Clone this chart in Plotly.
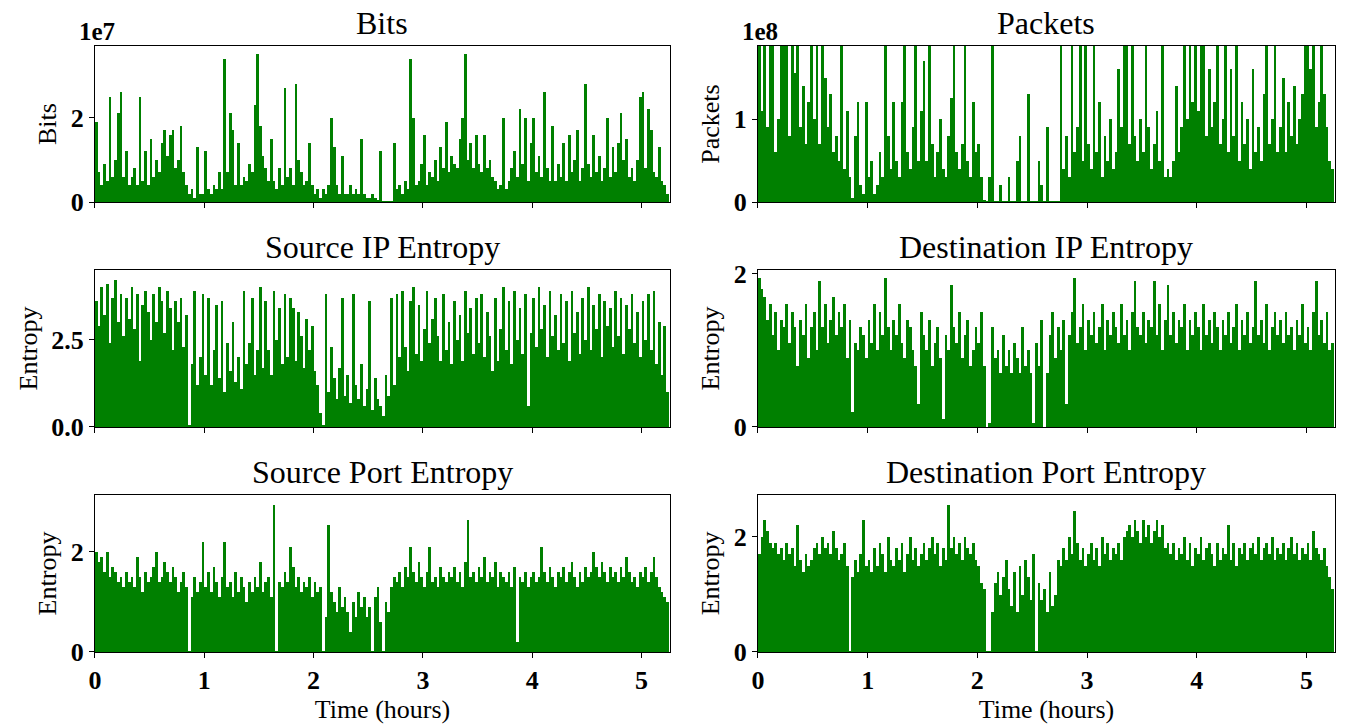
import numpy as np
import plotly.graph_objects as go

# Sampling interval of the traffic bins, in hours (1.5 min)
STEP_H = 0.025

# Bits per bin, in units of 1e7
bits_1e7 = [
    1.9, 0.7, 0.4, 0.9, 0.5, 2.5, 0.6, 1.0, 2.1, 2.6,
    0.6, 1.2, 0.4, 0.6, 0.8, 0.4, 2.5, 0.5, 1.2, 0.4,
    1.5, 0.6, 1.0, 0.7, 1.4, 1.7, 1.1, 1.6, 1.7, 0.8,
    1.0, 1.8, 0.7, 0.4, 0.2, 0.3, 0.1, 1.3, 0.2, 0.2,
    1.2, 0.3, 0.2, 0.4, 0.3, 0.7, 0.3, 3.4, 0.7, 2.1,
    1.7, 0.4, 1.4, 0.4, 0.6, 0.5, 0.9, 0.7, 2.3, 3.5,
    1.8, 1.1, 0.8, 0.5, 1.5, 0.5, 0.3, 0.8, 0.4, 2.7,
    0.6, 0.8, 0.4, 2.8, 1.0, 0.7, 0.4, 0.5, 1.4, 0.4,
    0.2, 0.3, 0.1, 0.3, 0.2, 0.4, 2.0, 1.3, 0.4, 0.2,
    1.1, 0.2, 0.2, 0.4, 0.2, 0.3, 0.2, 1.5, 0.2, 0.1,
    0.1, 0.2, 0.1, 0.05, 1.2, 0.02, 0.02, 0.02, 0.02, 1.4,
    0.3, 0.4, 0.2, 0.5, 0.3, 3.4, 2.0, 0.4, 0.5, 0.9,
    1.6, 0.4, 0.7, 0.6, 1.0, 0.5, 1.3, 0.8, 1.9, 0.7,
    1.1, 0.9, 0.8, 1.5, 2.0, 3.5, 1.0, 1.4, 0.8, 1.6,
    0.9, 0.7, 1.6, 0.8, 1.0, 0.6, 0.5, 0.3, 0.4, 2.0,
    0.3, 0.5, 0.8, 1.2, 0.6, 2.2, 0.9, 2.0, 0.5, 1.4,
    2.0, 0.7, 1.1, 0.6, 2.6, 0.8, 0.5, 1.8, 0.5, 0.9,
    0.6, 1.4, 0.5, 1.6, 0.7, 1.0, 1.7, 0.5, 0.8, 2.8,
    0.9, 0.6, 1.6, 0.7, 1.1, 0.5, 0.8, 2.0, 0.6, 1.3,
    0.7, 1.4, 2.1, 1.0, 1.5, 0.6, 0.8, 0.5, 1.0, 2.5,
    2.6, 0.8, 2.2, 1.7, 0.7, 0.6, 1.3, 0.5, 0.4, 0.2,
]

# Packets per bin, in units of 1e8
packets_1e8 = [
    2.4, 1.1, 2.2, 0.9, 2.3, 2.1, 0.6, 1.0, 2.5, 2.2,
    2.3, 0.8, 2.4, 1.55, 2.2, 0.9, 1.4, 0.7, 1.2, 2.3,
    1.0, 2.1, 0.7, 2.4, 1.5, 0.9, 1.3, 0.6, 0.8, 0.5,
    2.2, 0.4, 1.1, 0.3, 0.05, 0.8, 1.2, 0.2, 0.1, 1.2,
    0.3, 0.5, 0.1, 0.2, 0.6, 0.3, 2.2, 0.8, 0.4, 1.2,
    0.5, 0.3, 1.2, 2.3, 0.6, 0.4, 0.9, 2.2, 0.5, 1.1,
    1.7, 0.5, 2.1, 0.7, 0.3, 0.6, 1.0, 0.4, 0.3, 0.8,
    1.25, 2.3, 0.6, 0.4, 0.7, 2.2, 0.5, 0.3, 1.2, 0.6,
    0.7, 0.3, 0.02, 0.01, 0.3, 2.2, 0.01, 0.01, 0.2, 0.01,
    0.01, 0.3, 0.01, 0.01, 0.5, 0.8, 0.01, 0.01, 1.3, 0.01,
    0.01, 0.01, 0.5, 0.2, 0.01, 0.9, 0.01, 0.01, 0.01, 0.01,
    2.3, 0.4, 0.8, 0.3, 2.2, 0.6, 0.9, 2.4, 0.5, 2.1,
    0.7, 0.4, 2.2, 0.6, 1.2, 0.3, 0.8, 0.5, 1.0, 0.4,
    0.6, 1.6, 0.9, 2.4, 2.2, 0.7, 2.3, 0.8, 0.5, 1.0,
    0.6, 2.2, 0.9, 0.4, 0.7, 1.1, 0.5, 2.3, 0.3, 0.4,
    0.3, 0.5, 1.4, 0.6, 0.9, 2.2, 1.0, 2.4, 1.2, 2.1,
    1.1, 2.3, 2.2, 0.8, 1.6, 0.9, 1.2, 2.4, 0.7, 1.0,
    2.2, 0.6, 1.6, 0.8, 2.3, 0.5, 1.2, 0.7, 1.0, 0.4,
    1.6, 0.6, 0.9, 0.5, 1.3, 2.2, 0.7, 1.0, 2.3, 0.6,
    0.9, 1.5, 0.6, 1.2, 0.8, 1.4, 0.7, 1.0, 1.3, 2.2,
    2.3, 1.6, 2.4, 0.9, 1.2, 2.2, 1.3, 0.9, 0.5, 0.4,
]

# Shannon entropy of source IP addresses per bin
src_ip_entropy = [
    3.6, 2.9, 4.0, 3.2, 4.1, 2.4, 3.7, 4.2, 3.0, 3.8,
    2.6, 3.7, 3.1, 4.0, 2.8, 3.8, 1.9, 3.5, 3.9, 3.3,
    2.5, 3.8, 3.0, 4.0, 3.6, 2.7, 3.9, 3.4, 2.2, 3.6,
    3.0, 3.7, 2.3, 3.2, 0.05, 1.8, 3.9, 1.2, 2.0, 3.8,
    1.5, 3.7, 1.2, 2.2, 3.5, 1.4, 3.6, 1.0, 2.4, 1.6,
    3.0, 1.3, 2.0, 1.1, 3.9, 1.8, 2.4, 3.7, 1.5, 2.2,
    4.0, 1.7, 3.6, 2.2, 1.5, 3.9, 2.5, 3.4, 1.8, 3.8,
    2.0, 3.7, 3.4, 1.9, 3.3, 2.6, 1.7, 3.1, 2.2, 2.9,
    1.6, 1.2, 0.4, 0.05, 3.8, 1.0, 2.3, 1.4, 0.8, 1.7,
    3.7, 0.9, 1.5, 0.7, 3.8, 1.2, 0.8, 1.8, 0.6, 1.1,
    3.6, 0.5, 1.4, 0.8, 0.6, 0.3, 1.5, 0.9, 3.7, 1.2,
    3.8, 2.0, 3.9, 2.3, 1.6, 3.6, 4.0, 2.1, 3.5, 1.9,
    2.8, 3.9, 2.4, 3.1, 3.7, 2.6, 1.9, 3.8, 2.2, 3.0,
    1.8, 3.6, 2.5, 3.2, 1.9, 3.9, 2.7, 3.4, 2.1, 3.7,
    2.4, 3.8, 2.0, 3.3, 2.6, 1.6, 3.7, 1.9, 2.8, 4.0,
    2.2, 3.6, 1.8, 3.9, 2.5, 3.4, 2.1, 3.8, 0.6, 2.7,
    3.7, 2.3, 4.0, 2.8, 3.5, 2.0, 3.9, 2.6, 3.2, 2.2,
    3.8, 2.4, 3.6, 1.9, 3.9, 2.7, 3.3, 2.1, 3.7, 2.5,
    4.0, 2.2, 3.5, 2.8, 3.8, 2.0, 3.6, 2.9, 3.4, 2.3,
    3.9, 2.6, 3.7, 2.1, 3.5, 2.8, 3.8, 2.4, 3.3, 2.0,
    3.6, 2.5, 3.8, 2.2, 3.9, 1.8, 3.0, 1.5, 2.9, 1.0,
]

# Shannon entropy of destination IP addresses per bin
dst_ip_entropy = [
    1.95, 1.8, 1.7, 1.4, 1.6, 1.2, 1.5, 1.0, 1.4, 1.3,
    1.6, 1.1, 1.5, 1.3, 0.8, 1.4, 1.2, 1.6, 0.9, 1.3,
    1.5, 1.0, 1.9, 1.3, 1.6, 1.1, 1.4, 1.7, 1.2, 1.5,
    1.3, 1.6, 0.9, 1.4, 0.2, 1.1, 1.0, 1.3, 1.2, 0.9,
    1.4, 1.1, 1.6, 1.0, 1.5, 1.2, 1.95, 1.3, 1.0, 1.4,
    1.2, 1.6, 1.1, 0.9, 1.4, 1.3, 1.0, 0.8, 0.3, 1.5,
    1.2, 1.0, 1.4, 0.8, 1.1, 1.3, 0.9, 0.1, 1.2, 1.0,
    1.85, 1.3, 1.1, 1.5, 0.9, 1.2, 1.4, 0.8, 1.0, 1.3,
    1.1, 1.5, 0.8, 0.0, 0.05, 1.3, 0.9, 1.0, 0.7, 1.2,
    0.8, 1.0, 0.7, 1.1, 0.9, 0.7, 1.3, 0.8, 1.0, 0.7,
    0.05, 1.1, 0.8, 1.4, 0.0, 0.7, 1.2, 1.5, 0.9, 1.3,
    1.0, 1.4, 0.3, 1.2, 1.5, 1.95, 1.1, 1.3, 1.6, 1.0,
    1.4, 1.2, 1.5, 1.1, 1.3, 1.6, 1.0, 1.4, 1.2, 1.5,
    1.3, 1.1, 1.6, 1.2, 1.4, 1.0, 1.5, 1.9, 1.3, 1.2,
    1.5, 1.1, 1.4, 1.3, 1.9, 1.2, 1.6, 1.0, 1.4, 1.85,
    1.2, 1.5, 1.1, 1.4, 1.3, 1.6, 1.0, 1.4, 1.2, 1.5,
    1.3, 1.0, 1.6, 1.2, 1.4, 1.1, 1.5, 1.3, 1.0, 1.4,
    1.2, 1.5, 1.1, 1.3, 1.6, 1.0, 1.4, 1.2, 1.5, 1.1,
    1.3, 1.9, 1.2, 1.4, 1.1, 1.6, 1.0, 1.3, 1.5, 1.2,
    1.4, 1.1, 1.5, 1.2, 1.3, 1.0, 1.4, 1.2, 1.6, 1.1,
    1.3, 1.0, 1.5, 1.9, 1.2, 1.4, 1.1, 1.5, 1.0, 1.1,
]

# Shannon entropy of source ports per bin
src_port_entropy = [
    2.0, 1.8, 1.9, 1.6, 2.0, 1.5, 1.7, 1.6, 1.4, 1.5,
    1.3, 1.6, 1.4, 1.5, 1.3, 1.9, 1.5, 1.2, 1.6, 1.4,
    1.5, 1.7, 2.0, 1.4, 1.5, 1.8, 1.6, 1.4, 1.7, 1.5,
    1.2, 1.4, 1.6, 1.3, 0.02, 1.1, 1.5, 1.2, 1.4, 2.2,
    1.3, 1.6, 1.2, 1.7, 1.4, 1.1, 1.5, 2.2, 1.3, 1.4,
    1.1, 1.6, 1.2, 1.5, 1.3, 1.0, 1.4, 1.2, 1.5, 1.3,
    1.8, 1.2, 1.4, 1.5, 1.1, 2.95, 0.02, 1.4, 1.3, 1.6,
    1.4, 2.1, 1.7, 1.3, 1.5, 1.2, 1.4, 1.3, 1.5, 1.1,
    1.4, 1.2, 1.3, 0.02, 0.7, 2.55, 1.2, 1.0, 0.8, 1.3,
    0.9, 1.1, 0.8, 0.4, 1.0, 0.7, 1.2, 0.9, 1.1, 0.7,
    0.9, 0.02, 1.1, 1.3, 0.6, 0.02, 1.0, 0.8, 1.3, 1.5,
    1.4, 1.6, 1.3, 1.7, 1.5, 2.1, 1.6, 1.4, 1.8, 1.5,
    1.3, 1.6, 2.1, 1.4, 1.5, 1.3, 1.7, 1.5, 1.4, 1.6,
    1.5, 1.7, 1.4, 1.6, 1.3, 1.8, 2.65, 1.5, 1.6, 1.4,
    1.7, 1.5, 1.9, 1.4, 1.6, 1.5, 1.8, 1.3, 1.6, 1.5,
    1.4, 1.6, 1.3, 1.7, 0.2, 1.5, 1.4, 1.6, 1.3, 1.5,
    1.6, 1.4, 1.5, 2.1, 1.6, 1.4, 1.7, 1.5, 1.3, 1.6,
    1.5, 1.7, 1.4, 1.6, 1.8, 1.5, 1.3, 1.6, 1.4, 1.7,
    1.5, 1.6, 2.0, 1.7, 1.5, 1.8, 1.6, 1.4, 1.7, 1.5,
    1.6, 1.4, 1.7, 1.5, 1.9, 1.6, 1.4, 1.5, 1.3, 1.6,
    1.5, 1.7, 1.4, 1.6, 1.9, 1.5, 1.3, 1.2, 1.1, 1.0,
]

# Shannon entropy of destination ports per bin
dst_port_entropy = [
    1.7, 2.0, 2.3, 2.1, 1.9, 1.8, 1.9, 1.7, 1.8, 1.6,
    1.9, 1.7, 1.8, 1.5, 2.2, 1.6, 1.4, 1.7, 1.5, 1.6,
    1.8, 1.9, 1.7, 2.0, 1.8, 1.9, 1.7, 2.1, 1.8, 1.6,
    1.7, 1.9, 1.5, 0.02, 1.3, 1.6, 1.4, 1.7, 2.3, 1.5,
    1.6, 1.4, 1.8, 1.5, 1.9, 1.7, 1.4, 2.0, 1.6, 1.5,
    1.8, 1.6, 1.9, 1.4, 1.7, 2.0, 1.6, 1.8, 1.5, 1.7,
    1.9, 1.6, 1.8, 2.0, 1.7, 1.9, 1.5, 1.8, 1.6, 2.55,
    1.8, 2.0, 1.7, 1.9, 1.6, 2.0, 1.8, 1.7, 1.9, 1.6,
    1.5, 1.2, 1.1, 0.02, 0.02, 0.7, 1.2, 1.4, 1.0, 1.3,
    1.6, 1.1, 0.8, 1.4, 0.7, 1.5, 1.0, 1.6, 1.3, 0.9,
    1.7, 0.02, 1.2, 0.9, 1.1, 0.7, 1.4, 0.8, 1.0, 1.6,
    1.5, 1.8, 1.6, 2.0, 1.7, 2.45, 1.9, 1.6, 1.8, 1.5,
    1.7, 1.9, 1.6, 1.8, 1.5, 2.0, 1.7, 1.9, 1.6, 1.8,
    1.7, 1.9, 1.6, 2.0, 2.1, 2.2, 2.0, 2.3, 2.1, 1.9,
    2.3, 2.0, 2.2, 1.9, 2.1, 2.3, 2.0, 2.2, 1.8, 1.9,
    1.7, 1.9, 1.6, 1.8, 1.7, 2.0, 1.6, 1.9, 1.5, 1.8,
    1.7, 2.0, 1.6, 1.8, 1.9, 1.7, 1.5, 1.9, 1.6, 1.8,
    1.7, 2.2, 1.6, 1.9, 1.5, 1.8, 1.7, 1.9, 1.6, 1.8,
    1.9, 1.7, 2.0, 1.6, 1.8, 1.9, 1.7, 2.0, 1.6, 1.8,
    1.7, 1.9, 1.6, 1.8, 2.0, 1.7, 1.9, 1.6, 1.8, 1.7,
    1.9, 1.6, 2.1, 1.8, 1.7, 1.6, 1.8, 1.5, 1.3, 1.1,
]

x_ticks = [0, 1, 2, 3, 4, 5]

GREEN = "#008000"
SERIF = "Liberation Serif, Times New Roman, serif"

time_h = np.arange(len(bits_1e7)) * STEP_H

# (title, values, y label, y range, y tick values, y tick text, exponent label)
panels = [
    ("Bits", bits_1e7, "Bits", [0, 3.7], [0, 2], ["0", "2"], "1e7"),
    ("Packets", packets_1e8, "Packets", [0, 1.88], [0, 1], ["0", "1"], "1e8"),
    ("Source IP Entropy", src_ip_entropy, "Entropy", [0, 4.5], [0, 2.5], ["0.0", "2.5"], None),
    ("Destination IP Entropy", dst_ip_entropy, "Entropy", [0, 2.05], [0, 2], ["0", "2"], None),
    ("Source Port Entropy", src_port_entropy, "Entropy", [0, 3.14], [0, 2], ["0", "2"], None),
    ("Destination Port Entropy", dst_port_entropy, "Entropy", [0, 2.73], [0, 2], ["0", "2"], None),
]

# Plot-area placement in paper coordinates
col_domains = [[0.0705, 0.4974], [0.5627, 0.9911]]
row_domains = [[0.7225, 0.9368], [0.4135, 0.6291], [0.1044, 0.3201]]

TICK_FONT = dict(family=SERIF, size=26, color="black", weight="bold")
LABEL_FONT = dict(family=SERIF, size=26, color="black")

fig = go.Figure()
layout = dict(
    width=1347, height=728,
    margin=dict(l=0, r=0, t=0, b=0),
    paper_bgcolor="white", plot_bgcolor="white",
    showlegend=False, bargap=0,
    font=dict(family=SERIF, color="black"),
)
annotations = []

for k, (title, vals, ylab, yrng, ytv, ytt, expo) in enumerate(panels):
    row, col = divmod(k, 2)
    n = k + 1
    xa = "x" if n == 1 else f"x{n}"
    ya = "y" if n == 1 else f"y{n}"
    fig.add_trace(go.Bar(
        x=time_h, y=vals, width=STEP_H, offset=0,
        marker=dict(color=GREEN, line=dict(width=0)),
        xaxis=xa, yaxis=ya, hoverinfo="skip",
    ))
    bottom = row == 2
    layout["xaxis" if n == 1 else f"xaxis{n}"] = dict(
        domain=col_domains[col], anchor=ya, range=[0, 5.26],
        tickvals=x_ticks, showticklabels=bottom,
        ticks="outside", ticklen=5, tickwidth=1, tickcolor="black",
        tickfont=TICK_FONT, automargin=False,
        showline=True, mirror=True, linecolor="black", linewidth=1,
        showgrid=False, zeroline=False, fixedrange=True,
        title=dict(text="Time (hours)", font=LABEL_FONT, standoff=4) if bottom else None,
    )
    layout["yaxis" if n == 1 else f"yaxis{n}"] = dict(
        domain=row_domains[row], anchor=xa, range=yrng,
        tickvals=ytv, ticktext=ytt,
        ticks="outside", ticklen=5, tickwidth=1, tickcolor="black",
        tickfont=TICK_FONT, automargin=False,
        showline=True, mirror=True, linecolor="black", linewidth=1,
        showgrid=False, zeroline=False, fixedrange=True,
        title=dict(text=ylab, font=LABEL_FONT, standoff=6),
    )
    x0, x1 = col_domains[col]
    y1 = row_domains[row][1]
    annotations.append(dict(
        text=title, xref="paper", yref="paper", x=(x0 + x1) / 2, y=y1 + 0.031,
        xanchor="center", yanchor="middle", showarrow=False,
        font=dict(family=SERIF, size=32, color="black"),
    ))
    if expo:
        annotations.append(dict(
            text=expo, xref="paper", yref="paper", x=x0 - 0.013, y=y1 - 0.002,
            xanchor="left", yanchor="bottom", showarrow=False,
            font=dict(family=SERIF, size=25, color="black", weight="bold"),
        ))

layout["annotations"] = annotations
fig.update_layout(**layout)
fig.write_html("out.html")
